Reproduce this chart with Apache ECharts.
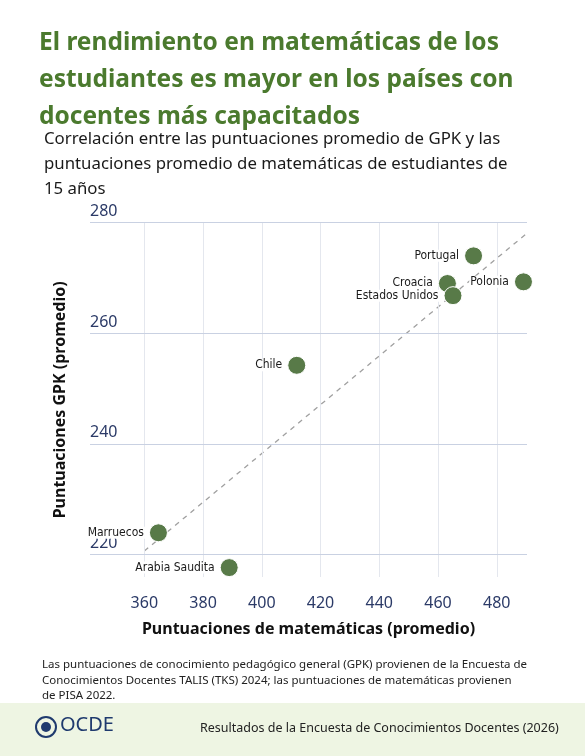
<!DOCTYPE html>
<html><head><meta charset="utf-8">
<script src="https://cdn.jsdelivr.net/npm/echarts@6/dist/echarts.min.js"></script>
<style>html,body{margin:0;padding:0;background:#fff}#main{width:585px;height:756px}</style>
</head><body><div id="main"></div>
<script>
const countries = ['Portugal', 'Croacia', 'Estados Unidos', 'Polonia', 'Chile', 'Marruecos', 'Arabia Saudita'];
const mathScores = [472.1, 463.2, 465.1, 489.1, 411.9, 364.8, 388.9];
const gpkScores = [274.0, 269.0, 266.8, 269.3, 254.2, 223.9, 217.6];
const trendX = [360, 490.3];
const trendY = [220.6, 278.1];
const xTicks = [360, 380, 400, 420, 440, 460, 480];
const yTicks = [220, 240, 260, 280];

const font = 'Noto Sans';
const labelOffsets = {
  'Croacia': [0, -1], 'Estados Unidos': [0, 0]
};

const points = countries.map((c, i) => ({
  name: c, value: [mathScores[i], gpkScores[i]],
  label: { offset: labelOffsets[c] || [0, 0] }
}));

const chart = echarts.init(document.getElementById('main'));
chart.setOption({
  animation: false,
  grid: { left: 90, right: 58, top: 222.7, bottom: 179 },
  title: [{
    text: 'El rendimiento en matemáticas de los\nestudiantes es mayor en los países con\ndocentes más capacitados',
    left: 34, top: 20,
    textStyle: { fontFamily: font, fontSize: 24.5, fontWeight: 'bold', color: '#4b7a2e', lineHeight: 37 }
  }, {
    text: 'Correlación entre las puntuaciones promedio de GPK y las\npuntuaciones promedio de matemáticas de estudiantes de\n15 años',
    left: 39, top: 122,
    textStyle: { fontFamily: font, fontSize: 16.8, fontWeight: 'normal', color: '#1a1a1a', lineHeight: 25 }
  }, {
    text: 'Las puntuaciones de conocimiento pedagógico general (GPK) provienen de la Encuesta de\nConocimientos Docentes TALIS (TKS) 2024; las puntuaciones de matemáticas provienen\nde PISA 2022.',
    left: 37, top: 652,
    textStyle: { fontFamily: font, fontSize: 11.5, fontWeight: 'normal', color: '#222', lineHeight: 15.5 }
  }],
  graphic: [
    { type: 'rect', shape: { x: 0, y: 703, width: 585, height: 53 }, style: { fill: '#eef5e3' }, z: -1 },
    { type: 'circle', shape: { cx: 46, cy: 727, r: 10 }, style: { fill: 'none', stroke: '#1f3a6e', lineWidth: 2 } },
    { type: 'circle', shape: { cx: 46, cy: 727, r: 5 }, style: { fill: '#1f3a6e' } },
    { type: 'text', left: 60, top: 715, style: { text: 'OCDE', fontFamily: font, fontSize: 20, fill: '#1f3a6e' } },
    { type: 'text', left: 200, top: 722, style: { text: 'Resultados de la Encuesta de Conocimientos Docentes (2026)', fontFamily: font, fontSize: 12.5, fill: '#222' } }
  ],
  xAxis: {
    type: 'value', min: 341.5, max: 490.3,
    name: 'Puntuaciones de matemáticas (promedio)', nameLocation: 'middle', nameGap: 44,
    nameTextStyle: { fontFamily: font, fontSize: 16, fontWeight: 'bold', color: '#111' },
    axisLine: { show: false }, axisTick: { show: false }, splitLine: { show: false },
    axisLabel: { customValues: xTicks, fontFamily: font, fontSize: 16, color: '#2b3a67', margin: 18 }
  },
  yAxis: {
    type: 'value', min: 215.9, max: 280,
    name: 'Puntuaciones GPK (promedio)', nameLocation: 'middle', nameGap: 22,
    nameTextStyle: { fontFamily: font, fontSize: 16, fontWeight: 'bold', color: '#111' },
    axisLine: { show: false }, axisTick: { show: false }, splitLine: { show: false },
    axisLabel: { customValues: yTicks, inside: true, verticalAlign: 'bottom', margin: 0,
      padding: [0, 0, 3, 0], fontFamily: font, fontSize: 16, color: '#2b3a67' }
  },
  series: [{
    type: 'line', data: [], silent: true,
    markLine: {
      symbol: 'none', silent: true, label: { show: false },
      data: xTicks.map(v => ({ xAxis: v, lineStyle: { color: '#e4e7ee', width: 1, type: 'solid' } }))
        .concat(yTicks.map(v => ({ yAxis: v, lineStyle: { color: '#c9d1e2', width: 1.2, type: 'solid' } })))
    }
  }, {
    type: 'line', data: trendX.map((x, i) => [x, trendY[i]]), symbol: 'none', z: 3,
    lineStyle: { color: '#a0a0a0', width: 1.3, type: [5, 5] }
  }, {
    type: 'scatter', data: points, symbolSize: 18, z: 5,
    itemStyle: { color: '#587a48', opacity: 1, borderColor: '#fff', borderWidth: 1 },
    label: {
      show: true, position: 'left', distance: 4, formatter: '{b}',
      fontFamily: '"DejaVu Sans Condensed", "Noto Sans", sans-serif', fontSize: 12, fontWeight: 'normal', color: '#1a1a1a',
      backgroundColor: '#fff', padding: [0, 1]
    }
  }]
});
</script></body></html>
